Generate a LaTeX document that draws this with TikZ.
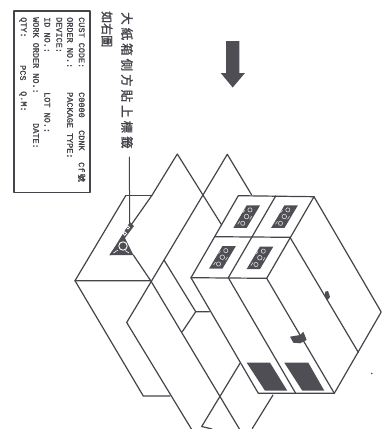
\documentclass[tikz,border=0pt]{standalone}
\usepackage{fontspec}
\newfontfamily\cjkwide[LetterSpace=24,FakeBold=1.5]{Noto Sans CJK TC}
\newfontfamily\cjknarrow[FakeBold=1.5]{Noto Sans CJK TC}
\newfontfamily\lab[FakeBold=1.6]{Liberation Mono}
\definecolor{ink}{HTML}{45444B}
\definecolor{inkd}{HTML}{504E55}
\tikzset{
  ln/.style={draw=ink,line width=1.2pt,line join=round,line cap=round},
  lt/.style={inner sep=0pt,rotate=-90,anchor=west,text=ink,font=\lab\fontsize{8.5}{9}\selectfont},
  cn/.style={inner sep=0pt,rotate=-90,anchor=west,text=ink},
  sq/.style={draw=white!80!ink,line width=.6pt,fill=none}
}
\newcommand{\labelmark}[2]{%
  \begin{scope}[shift={(#1,#2)}]
    \fill[inkd] (0,0) -- (13.4,0) -- (0,22.6) -- (-13.4,22.6) -- cycle;
    \draw[sq] (3.3,4.6) circle (2.1);
    \draw[sq] (-.2,11.2) circle (2.3);
    \draw[sq] (-4,18) circle (2.1);
    \draw[sq] (-4,7.5) -- (-2,5) (5,11) -- (3,14) (-9,19) -- (-7,16);
  \end{scope}}
\begin{document}
\begin{tikzpicture}[x=1pt,y=-1pt]
\useasboundingbox (0,0) rectangle (382,429);
% info label
\draw[ink,line width=1.5pt,line join=round] (14,11) rectangle (90,192.7);
\node[lt] (t1a) at (81.7,17) {CUST CODE:};
\node[lt] (t1b) at (81.7,92) {C0000};
\node[lt] (t1c) at (81.7,130) {CDNK};
\node[lt] (t1d) at (81.7,162) {Cf\,{\cjknarrow\fontsize{8}{9}\selectfont 號}};
\node[lt] (t2a) at (70,17) {ORDER NO.:};
\node[lt] (t2b) at (70,92) {PACKAGE TYPE:};
\node[lt] (t3a) at (59.3,17) {DEVICE:};
\node[lt] (t4a) at (47.3,17) {ID NO.:};
\node[lt] (t4b) at (47.3,92) {LOT NO.:};
\node[lt] (t5a) at (36,17) {WORK ORDER NO.:};
\node[lt] (t5b) at (36,123) {DATE:};
\node[lt] (t6a) at (23,17) {QTY:};
\node[lt] (t6b) at (23,65) {PCS};
\node[lt] (t6c) at (23,91) {Q.M:};
% chinese caption
\node[cn] (cap1) at (127,12) {\cjkwide\fontsize{12.5}{14}\selectfont 大紙箱側方貼上標籤};
\node[cn] (cap2) at (107,11) {\cjknarrow\fontsize{12}{14}\selectfont 如右圖};
% leader
\draw[ln,line width=1pt] (129.4,157) -- (129.6,224);
% big arrow
\fill[inkd] (226,41) -- (239.3,41) -- (239.3,73) -- (245,73) -- (232.7,87.5) -- (220.7,73) -- (226,73) -- cycle;
% flaps, left side
\draw[ln] (125.7,195.7) -- (151.7,195.7);
\draw[ln] (151.7,195.7) -- (177.3,154) -- (221.7,225);
\draw[ln] (151.7,195.7) -- (110,255);
\draw[ln] (125.7,195.7) -- (75,280.7) -- (150.7,280.7);
\draw[ln] (75,280.7) -- (143.3,396) -- (170,396);
\draw[ln] (133.3,255) -- (150.7,280.7) -- (240,430);
\draw[ln] (251.7,195) -- (227.3,154.3) -- (126.7,322.5) -- (192,430);
\draw[ln] (164,260) -- (195.7,311.7) -- (209.3,311.7);
\draw[ln] (195.7,311.7) -- (182.3,331.7);
\draw[ln] (240,363.3) -- (201.7,426.5) -- (212,429);
\draw[ln] (273,395) -- (252.3,428.5);
% triangle sticker
\fill[inkd] (130,222) -- (134,226) -- (125,238) -- (133.5,255) -- (110,255) -- cycle;
\draw[white,line width=.8pt] (128,227.5) circle (1.6);
\draw[white,line width=.8pt] (124.8,233.5) circle (1.8);
\draw[white,line width=.9pt] (123,246) circle (4.2);
\draw[white,line width=.6pt] (113.5,253) -- (118,250) (129,253) -- (125,250.5);
% carton stack
\draw[ln] (238.3,195.7) -- (314,196.7) -- (381.2,312) -- (334.3,393.3) -- (258.3,393.3) -- (191,277.7) -- cycle;
\draw[ln] (191,277.7) -- (266.7,278.3) -- (314,196.7);
\draw[ln] (215,236.7) -- (290,237.3) -- (358.3,352.3);
\draw[ln] (275.7,196) -- (228.3,277.7) -- (295.7,393.3);
\draw[ln] (266.7,278.3) -- (334.3,393.3);
\labelmark{246.7}{205.3}
\labelmark{284.5}{205.3}
\labelmark{222.5}{246}
\labelmark{260}{246.5}
\fill[inkd] (246.7,362.7) -- (270,362.7) -- (287.3,390.7) -- (265,390.7) -- cycle;
\fill[inkd] (284.3,362.7) -- (308.3,362.7) -- (324.3,390.7) -- (302.3,390.7) -- cycle;
\fill[inkd] (290,336.7) -- (300,335) -- (303.3,331.7) -- (306.7,340) -- (300,343.3) -- (293.3,342.7) -- cycle;
\fill[inkd] (325.5,291.5) -- (328,291) -- (330,297) -- (327.5,300) -- (324.5,295) -- cycle;
\fill[ink] (371.7,373.5) circle (.9);
\end{tikzpicture}
\end{document}
